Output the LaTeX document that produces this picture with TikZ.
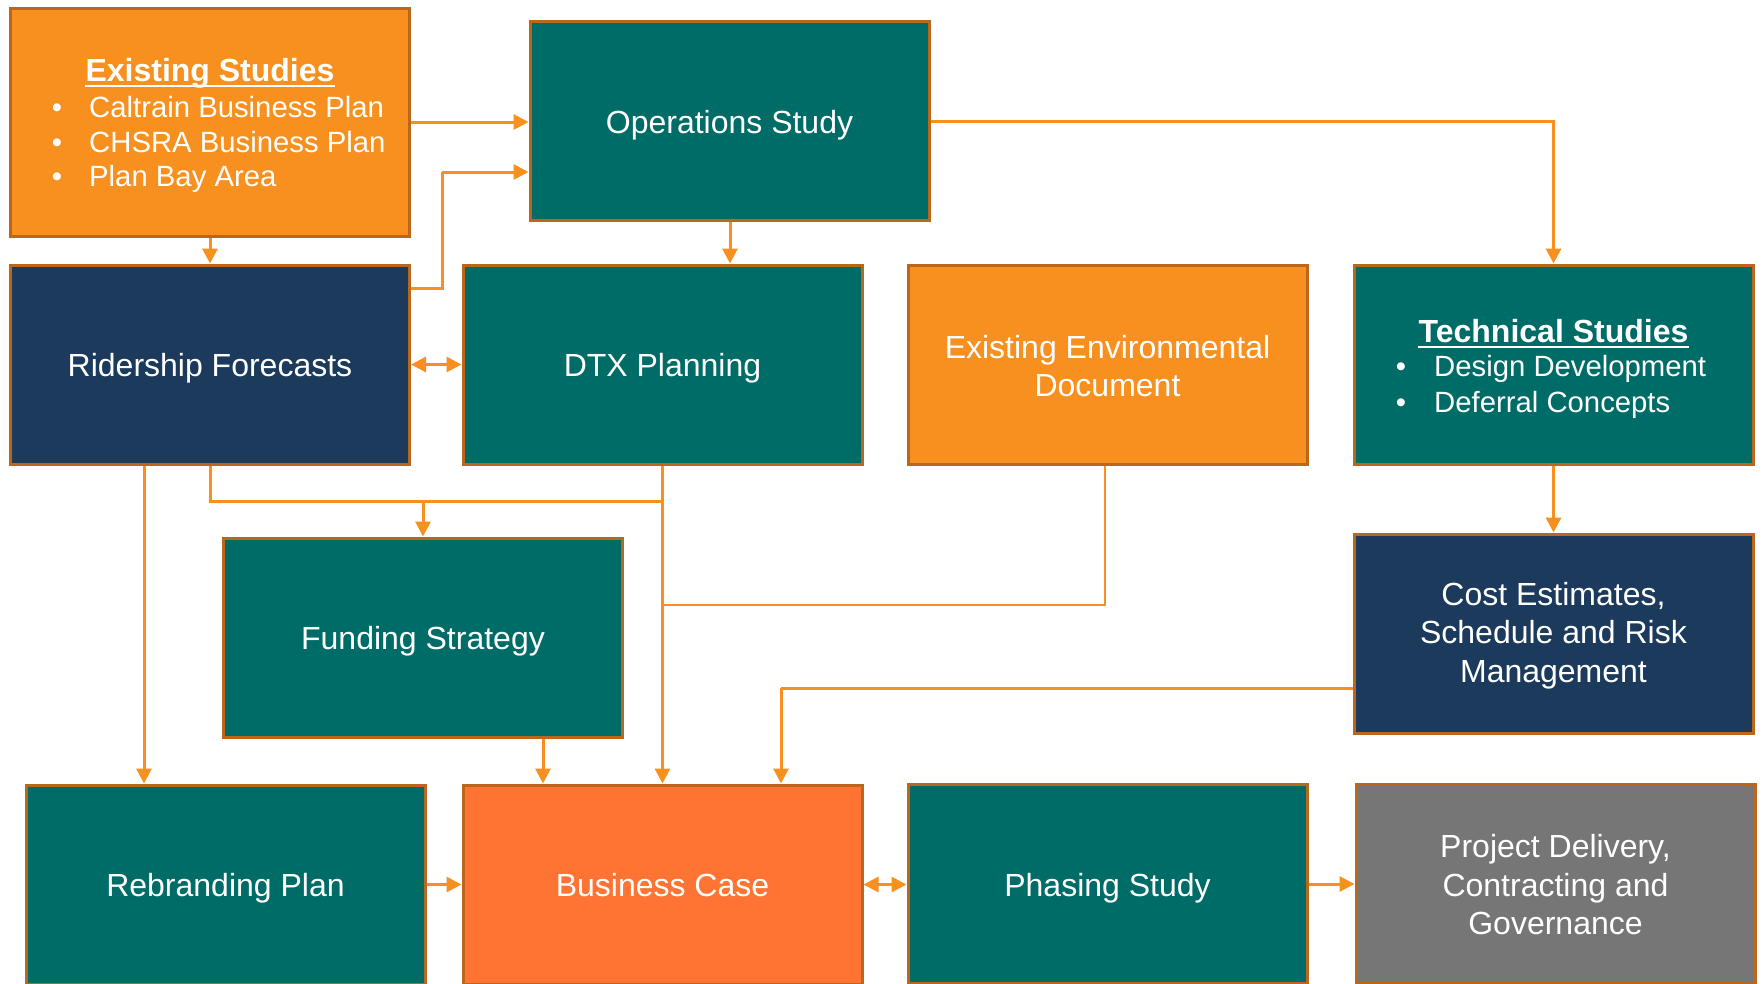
\documentclass[tikz,border=0pt]{standalone}
\usepackage{fontspec}
\setmainfont{Liberation Sans}
\usetikzlibrary{arrows.meta,calc}
\definecolor{corange}{HTML}{F7901E}
\definecolor{cteal}{HTML}{006C67}
\definecolor{cnavy}{HTML}{1B3A5C}
\definecolor{cbc}{HTML}{FF7433}
\definecolor{cgray}{HTML}{767676}
\definecolor{cborder}{HTML}{BA661C}
\definecolor{cline}{HTML}{F7901E}
\begin{document}
\begin{tikzpicture}[x=1pt,y=-1pt,
  box/.style={draw=cborder, line width=3pt, minimum width=399pt, minimum height=199pt,
    inner sep=0pt, text=white, font=\fontsize{32pt}{38.5pt}\selectfont, align=center},
  one/.style={text height=24pt, text depth=0pt},
  hd/.style={inner sep=0pt, text=white, font=\fontsize{32pt}{38pt}\selectfont\bfseries},
  bt/.style={inner sep=0pt, text=white, font=\fontsize{29.3pt}{35pt}\selectfont},
  conn/.style={draw=cline, line width=3pt},
  arr/.style={conn, -{Triangle[length=15pt,width=15pt]}},
  darr/.style={conn, {Triangle[length=15pt,width=15pt]}-{Triangle[length=15pt,width=15pt]}},
  thin/.style={draw=cline, line width=2pt}]
\useasboundingbox (0,0) rectangle (1762,983);
\fill[white] (0,0) rectangle (1762,983);

% boxes
\node[box, fill=corange, minimum height=228pt] (exs) at (210,122) {};
\node[box, one, fill=cteal] (ops) at (729.5,121) {Operations Study};
\node[box, one, fill=cnavy] (rid) at (210,364.5) {Ridership Forecasts};
\node[box, one, fill=cteal] (dtx) at (662.5,364.5) {DTX Planning};
\node[box, fill=corange] (env) at (1107.5,364.5) {\rule{0pt}{26pt}Existing Environmental\\Document};
\node[box, fill=cteal] (tech) at (1553.5,364.5) {};
\node[box, one, fill=cteal] (fund) at (423,637.5) {Funding Strategy};
\node[box, fill=cnavy] (cost) at (1553.5,633.5) {\rule{0pt}{27pt}Cost Estimates,\\Schedule and Risk\\Management};
\node[box, one, fill=cteal] (reb) at (225.5,884.5) {Rebranding Plan};
\node[box, one, fill=cbc] (bc) at (662.5,884.5) {Business Case};
\node[box, one, fill=cteal] (pha) at (1107.5,884) {Phasing Study};
\node[box, fill=cgray] (pd) at (1555.5,884) {\rule{0pt}{25pt}Project Delivery,\\Contracting and\\Governance};

% Existing Studies content
\node[hd, anchor=base] (exsh) at (210,81) {Existing Studies};
\draw[white, line width=2.5pt] ([yshift=-5pt]exsh.base west) -- ([yshift=-5pt]exsh.base east);
\node[bt, anchor=base] (eb1) at (57,117) {•};
\node[bt, anchor=base west] (et1) at (89,117) {Caltrain Business Plan};
\node[bt, anchor=base] (eb2) at (57,152) {•};
\node[bt, anchor=base west] (et2) at (89,152) {CHSRA Business Plan};
\node[bt, anchor=base] (eb3) at (57,186) {•};
\node[bt, anchor=base west] (et3) at (89,186) {Plan Bay Area};

% Technical Studies content
\node[hd, anchor=base] (techh) at (1553.5,342) {Technical Studies};
\draw[white, line width=2.5pt] ([yshift=-5pt]techh.base west) -- ([yshift=-5pt]techh.base east);
\node[bt, anchor=base] (tb1) at (1401,376) {•};
\node[bt, anchor=base west] (tt1) at (1434,376) {Design Development};
\node[bt, anchor=base] (tb2) at (1401,412) {•};
\node[bt, anchor=base west] (tt2) at (1434,412) {Deferral Concepts};

% junction coordinates
\coordinate (r1) at (442,288);
\coordinate (r2) at (442,172);
\coordinate (j1) at (662.5,501);
\coordinate (j2) at (662.5,605);
\coordinate (c1) at (781,688);

% connectors
\draw[arr] (exs.east) -- (exs.east -| ops.west);
\draw[conn] (rid.east |- r1) -- (r1) -- (r2);
\draw[arr] (r2) -- (ops.west |- r2);
\draw[arr] (exs.south) -- (rid.north);
\draw[arr] (ops.south -| 730,0) -- (dtx.north -| 730,0);
\draw[arr] (ops.east) -| (tech.north);
\draw[darr] (rid.east) -- (dtx.west);
\draw[arr] (rid.south -| 144,0) -- (reb.north -| 144,0);
\draw[conn] (rid.south) |- (j1);
\draw[arr] (fund.north |- j1) -- (fund.north);
\draw[arr] (dtx.south) -- (bc.north);
\draw[thin] (env.south -| 1105,0) |- (j2);
\draw[arr] (fund.south -| 543,0) -- (bc.north -| 543,0);
\draw[conn] (cost.west |- c1) -- (c1);
\draw[arr] (c1) -- (bc.north -| c1);
\draw[arr] (tech.south) -- (cost.north);
\draw[arr] (reb.east) -- (reb.east -| bc.west);
\draw[darr] (bc.east) -- (bc.east -| pha.west);
\draw[arr] (pha.east) -- (pha.east -| pd.west);
\end{tikzpicture}
\end{document}
